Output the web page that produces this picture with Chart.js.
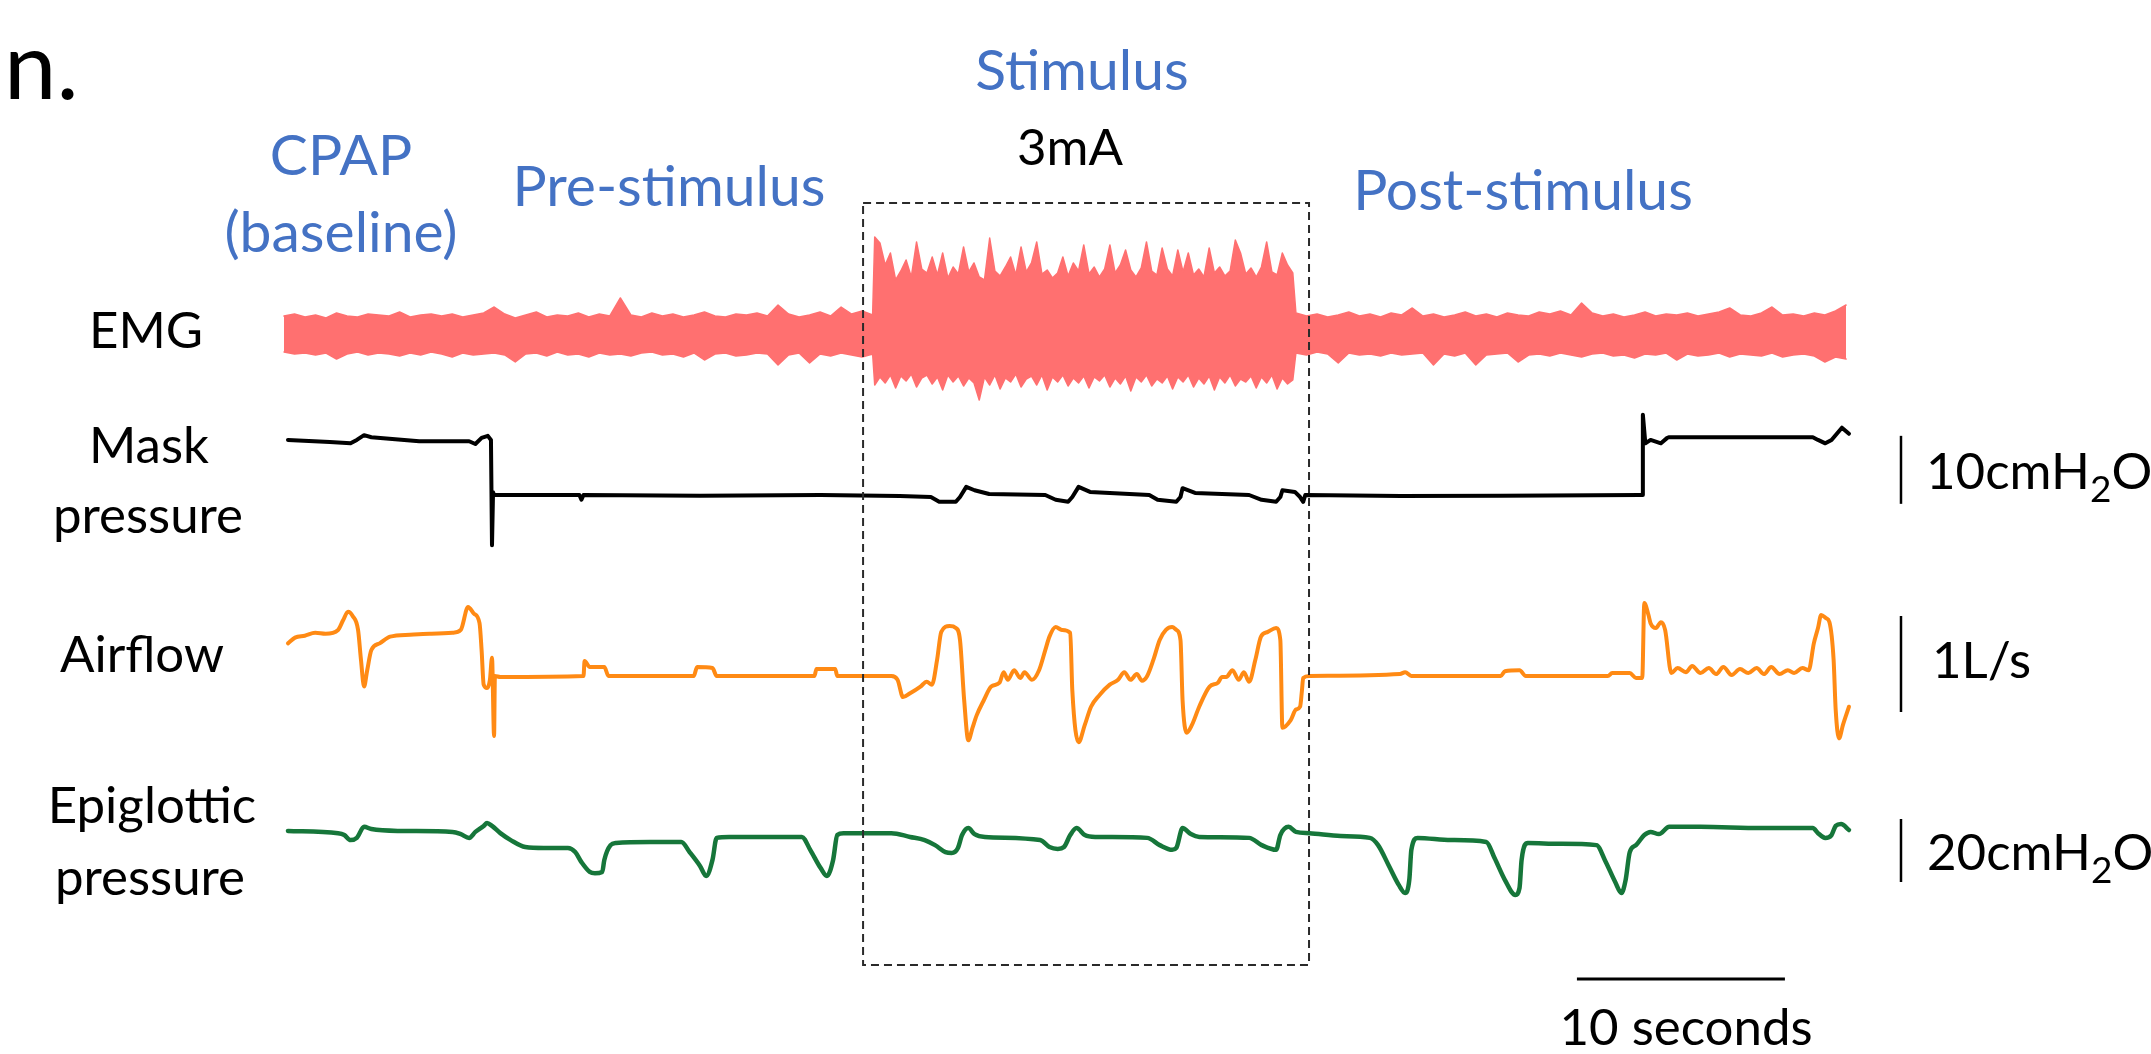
<!DOCTYPE html>
<html><head><meta charset="utf-8">
<script src="https://cdn.jsdelivr.net/npm/chart.js@4.4.1/dist/chart.umd.min.js"></script>
<style>
html,body{margin:0;padding:0;background:#fff;overflow:hidden}
#wrap{position:relative;width:2151px;height:1054px}
#c{position:absolute;left:0;top:0}
#txt{position:absolute;left:0;top:0;pointer-events:none}
#txt text{font-family:Lato,"Open Sans",sans-serif}
</style></head><body>
<div id="wrap">
<canvas id="c" width="2151" height="1054"></canvas>
<svg id="txt" width="2151" height="1054" xmlns="http://www.w3.org/2000/svg">
  <text x="4" y="99" font-size="94" fill="#000">n.</text>
  <g fill="#4472C4" font-size="57" text-anchor="middle">
    <text x="341" y="175">CPAP</text>
    <text x="341" y="252">(baseline)</text>
    <text x="669" y="206">Pre-stimulus</text>
    <text x="1082" y="90">Stimulus</text>
    <text x="1523" y="210">Post-stimulus</text>
  </g>
  <g fill="#000" font-size="51" text-anchor="middle">
    <text x="1070" y="165">3mA</text>
    <text x="146" y="348">EMG</text>
    <text x="149" y="463">Mask</text>
    <text x="148" y="533">pressure</text>
    <text x="142" y="672">Airflow</text>
    <text x="152" y="823">Epiglottic</text>
    <text x="150" y="895">pressure</text>
    <text x="1686" y="1045">10 seconds</text>
  </g>
  <g fill="#000" font-size="51">
    <text x="1926" y="489">10cmH<tspan font-size="37" dy="13">2</tspan><tspan dy="-13">O</tspan></text>
    <text x="1932" y="678">1L/s</text>
    <text x="1927" y="870">20cmH<tspan font-size="37" dy="13">2</tspan><tspan dy="-13">O</tspan></text>
  </g>
</svg>
</div>
<script>
// ---------------- data (time in seconds) ----------------
// EMG envelope (arbitrary units), three segments: pre-stimulus, stimulus (3mA), post-stimulus
const emgPreUpper = [19,21,18,20,17,22,19,18,21,20, 19,23,18,20,21,19,21,18,20,22,
  28,21,17,20,23,18,20,19,22,18, 21,19,37,20,18,22,19,21,18,20,
  23,19,18,21,20,22,19,30,21,18, 20,23,19,28,21,24,20];
const emgPreLower = [-17,-19,-18,-20,-18,-24,-19,-17,-20,-18, -19,-21,-18,-20,-17,-19,-22,-18,-20,-19,
  -18,-20,-27,-19,-18,-21,-17,-20,-19,-22, -18,-20,-19,-21,-18,-17,-20,-19,-22,-18,
  -25,-19,-18,-21,-20,-18,-19,-30,-20,-18, -28,-19,-21,-18,-20,-22,-19];
const emgStimUpper = [98,92,70,82,55,64,75,58,93,66, 62,78,60,82,57,68,61,88,63,72,
  58,55,97,64,59,68,78,60,88,63, 72,93,61,65,57,62,78,59,72,64,
  90,61,68,58,66,90,62,70,85,65, 58,67,93,64,60,87,66,59,85,63,
  82,60,66,58,87,62,68,59,64,95, 82,61,67,58,68,93,63,60,82,70, 62];
const emgStimLower = [-50,-42,-48,-40,-53,-41,-46,-39,-52,-43, -40,-49,-42,-55,-40,-47,-41,-51,-43,-48,
  -65,-42,-50,-40,-54,-43,-47,-39,-52,-44, -41,-50,-40,-55,-42,-47,-40,-51,-43,-48,
  -41,-53,-42,-46,-40,-52,-43,-49,-41,-56, -42,-47,-40,-51,-44,-48,-41,-54,-42,-47,
  -40,-52,-43,-49,-41,-55,-42,-48,-40,-51, -44,-47,-41,-53,-42,-48,-40,-54,-43,-49, -45];
const emgPostUpper = [22,19,21,18,20,23,19,21,18,22, 20,27,19,21,18,20,23,19,21,18,
  22,20,19,23,21,24,20,32,22,19, 21,18,20,23,19,21,20,22,19,21,
  23,27,20,19,22,28,20,21,19,22, 20,24,30];
const emgPostLower = [-18,-20,-17,-19,-28,-18,-20,-19,-21,-18, -20,-19,-18,-30,-19,-21,-18,-30,-20,-19,
  -18,-27,-20,-19,-21,-18,-20,-22,-19,-18, -21,-20,-23,-19,-20,-18,-25,-19,-21,-20,
  -18,-22,-19,-20,-21,-18,-22,-20,-19,-21, -27,-22,-24];
const emgSegments = [[0, 28.3], [28.4, 48.5], [48.65, 75.1]]; // start/end time of each segment

// Mask pressure (cmH2O)
const maskTime = [0.19,2.2,3.2,3.5,3.85,4.2,6.5,8.9,9.2,9.5, 9.8,9.95,10.0,10.05,10.1,10.4,14.2,14.3,14.4,20,
  25.8,29.6,31.1,31.5,32.3,32.5,32.8,33.2,33.9,36.6, 37.1,37.7,37.9,38.2,38.75,41.6,42.0,42.9,43.1,43.2,
  43.8,46.4,47.0,47.7,47.9,48.0,48.6,48.85,49.0,49.1, 53.7,58.5,65.2,65.3,65.33,65.45,65.7,66.2,66.5,66.6,
  70.5,73.5,73.75,74.1,74.4,74.9,75.24];
const maskValue = [8.1,7.8,7.6,8.1,8.8,8.5,7.9,7.9,7.5,8.4, 8.7,8.1,-7.4,0.4,0,0,0,-0.7,0,-0.1,
  0,-0.15,-0.3,-1.0,-1.0,-0.3,1.2,0.7,0.15,0, -0.7,-1.0,-0.3,1.2,0.45,0,-0.7,-1.0,-0.3,1.0,
  0.3,0,-0.7,-1.0,-0.3,0.7,0.45,-0.3,-1.0,0, -0.15,-0.1,0,0,11.8,7.6,8.1,7.6,8.4,8.5,
  8.5,8.5,8.1,7.6,8.1,9.9,9.0];

// Airflow (L/s)
const flowTime = [0.19,0.53,1.0,1.5,2.0,2.6,2.84,3.08,3.3,3.56, 3.7,3.85,4.0,4.2,4.6,5.1,6.06,7.0,8.1,8.5,
  8.85,9.13,9.4,9.5,9.6,9.76,9.9,10.0,10.1,10.14, 10.4,14.4,14.45,14.7,15.4,15.6,19.7,19.86,20.6,20.8,
  25.5,25.6,26.5,26.6,29.2,29.5,29.76,30.1,30.6,30.9, 31.15,31.4,31.6,32.0,32.3,32.5,32.7,32.9,33.1,33.3,
  33.65,34.0,34.4,34.6,34.8,35.1,35.4,35.6,35.96,36.3, 36.6,36.8,37.1,37.4,37.8,37.9,38.2,38.5,38.8,39.2,
  39.7,40.1,40.4,40.7,41.0,41.25,41.5,41.8,42.1,42.4, 42.7,42.9,43.1,43.2,43.4,43.65,44.0,44.5,44.9,45.1,
  45.3,45.6,45.9,46.15,46.4,46.7,46.97,47.3,47.7,47.9, 48.0,48.4,48.65,48.85,48.94,49.0,49.3,53.65,53.9,54.2,
  58.5,58.7,59.4,59.7,63.65,63.85,64.7,65.0,65.3,65.4, 65.6,65.7,65.96,66.2,66.4,66.7,67.0,67.4,67.7,68.1,
  68.5,68.85,69.2,69.6,70.0,70.4,70.8,71.15,71.5,71.9, 72.3,72.6,73.0,73.3,73.55,73.75,73.9,74.15,74.3,74.5,
  74.6,74.76,74.95,75.24];
const flowValue = [0.34,0.40,0.42,0.45,0.44,0.48,0.58,0.67,0.625,0.48, 0.17,-0.11,0.06,0.27,0.34,0.41,0.43,0.44,0.45,0.48,
  0.72,0.65,0.55,0.27,-0.09,-0.125,-0.04,0.19,-0.625,0, -0.01,0,0.156,0.094,0.094,0,0,0.094,0.083,0,
  0,0.073,0.073,0,0,-0.04,-0.22,-0.18,-0.11,-0.06, -0.09,0.17,0.46,0.52,0.5,0.375,-0.25,-0.67,-0.54,-0.41,
  -0.25,-0.11,-0.07,0.04,-0.04,0.06,-0.02,0.04,-0.04,0.06, 0.27,0.41,0.51,0.48,0.45,-0.15,-0.69,-0.51,-0.32,-0.2,
  -0.09,-0.04,0.04,-0.04,0.02,-0.05,0,0.17,0.375,0.48, 0.51,0.48,0.375,-0.25,-0.59,-0.51,-0.32,-0.11,-0.07,-0.01,
  -0.01,0.06,-0.04,0.04,-0.06,0.17,0.41,0.46,0.5,0.375, -0.54,-0.46,-0.35,-0.32,-0.15,-0.02,0,0.02,0.04,0,
  0,0.05,0.06,0,0,0.03,0.03,-0.02,-0.02,0.76, 0.635,0.55,0.5,0.56,0.48,0.03,0.083,0.04,0.104,0.03,
  0.083,0.02,0.094,0.01,0.073,0.03,0.083,0.02,0.094,0.02, 0.06,0.03,0.083,0.06,0.34,0.5,0.635,0.6,0.56,0.17,
  -0.35,-0.65,-0.51,-0.32];

// Epiglottic pressure (cmH2O)
const epiTime = [0.19,2.6,2.9,3.2,3.5,3.85,4.2,5.6,8.1,8.5, 8.9,9.2,9.6,9.76,10.0,10.4,10.9,11.6,12.5,13.65,
  14.0,14.3,14.7,14.95,15.3,15.4,15.7,15.96,17.6,19.1, 19.5,20.0,20.3,20.6,20.8,21.4,24.9,25.3,25.8,26.1,
  26.4,26.6,26.9,29.2,30.1,30.8,31.3,31.8,32.1,32.4, 32.6,32.9,33.2,33.7,36.35,36.8,37.2,37.5,37.8,38.1,
  38.5,39.0,41.5,42.1,42.7,42.9,43.2,43.6,44.0,46.4, 47.0,47.7,47.9,48.3,48.65,49.3,50.8,52.2,52.6,53.1,
  53.6,53.9,54.1,54.2,54.5,56.1,57.8,58.2,58.7,59.2, 59.4,59.5,59.8,61.3,63.1,63.5,64.0,64.3,64.5,64.7,
  65.0,65.4,65.7,66.1,66.6,68.1,71.0,73.5,73.75,74.1, 74.4,74.6,74.86,75.24];
const epiValue = [-0.3,-1.0,-1.6,-3.2,-2.5,1.0,0.3,-0.3,-0.6,-1.3, -2.5,-0.6,1.3,2.2,1.3,-1.0,-3.2,-5.4,-5.7,-5.7,
  -7.0,-10.2,-13.3,-13.7,-13.3,-9.5,-4.8,-4.1,-3.8,-3.8, -7.0,-11.4,-14.6,-9.5,-2.5,-2.2,-2.2,-6.3,-12.1,-14.6,
  -9.5,-1.6,-1.0,-1.0,-2.2,-3.2,-4.8,-7.0,-7.3,-5.7, -1.6,0.6,-1.3,-2.2,-3.2,-5.4,-6.0,-5.4,-1.6,0.6,
  -1.6,-2.2,-2.5,-4.8,-6.3,-5.7,0.6,-1.3,-2.2,-2.5, -4.8,-6.3,-1.6,1.0,-0.6,-1.0,-1.9,-2.5,-4.8,-11.1,
  -17.5,-20.0,-15.9,-6.3,-2.5,-3.2,-3.8,-8.9,-15.9,-20.6, -18.4,-9.5,-4.1,-4.4,-4.8,-9.5,-16.5,-20.0,-15.9,-7.0,
  -4.8,-1.6,-0.6,-1.3,1.0,1.0,0.6,0.6,-1.0,-2.5, -1.6,1.3,1.9,0];

// stimulus window, calibration bars
const stimWindow = [27.84, 49.28];          // s
const timeBar = [62.16, 72.16];             // 10 seconds
const barTime = 77.74;                      // s, where the amplitude bars sit
const maskBar = [-1.3, 8.7];                // 10 cmH2O
const flowBar = [-0.375, 0.625];            // 1 L/s
const epiBar = [-16.5, 3.5];                // 20 cmH2O

// ---------------- build ----------------
function grid(a, b, n) { const out = []; for (let i = 0; i < n; i++) out.push(a + (b - a) * i / (n - 1)); return out; }
const emgUpper = [...emgPreUpper, ...emgStimUpper, ...emgPostUpper];
const emgLower = [...emgPreLower, ...emgStimLower, ...emgPostLower];
const emgTime = [
  ...grid(emgSegments[0][0], emgSegments[0][1], emgPreUpper.length),
  ...grid(emgSegments[1][0], emgSegments[1][1], emgStimUpper.length),
  ...grid(emgSegments[2][0], emgSegments[2][1], emgPostUpper.length)];
const pts = (ts, vs) => ts.map((t, i) => ({x: t, y: vs[i]}));

const W = 2151, H = 1054;
const PX_PER_S = 20.8, X0 = 284;
// band placement: [pixel of zero, pixels per unit]
function axisFor(p0, k) { return {type: 'linear', display: false, min: -(H - p0) / k, max: p0 / k}; }

const EMG_C = '#FF7070', FLOW_C = '#FF8A14', EPI_C = '#16763A';
const line = (data, axis, color, w, extra) => Object.assign({
  data, yAxisID: axis, borderColor: color, backgroundColor: color, borderWidth: w,
  pointRadius: 0, tension: 0, fill: false, borderJoinStyle: 'round', borderCapStyle: 'round'
}, extra || {});
const smooth = {cubicInterpolationMode: 'monotone', tension: 0.4};

const figTop = 203 / H, figBot = 965 / H, barY = 979 / H;
new Chart(document.getElementById('c'), {
  type: 'line',
  data: {
    datasets: [
      line([{x: stimWindow[0], y: figTop}, {x: stimWindow[1], y: figTop}, {x: stimWindow[1], y: figBot},
            {x: stimWindow[0], y: figBot}, {x: stimWindow[0], y: figTop}], 'yFig', '#2a2a2a', 2,
           {borderDash: [8, 5], borderCapStyle: 'butt', borderJoinStyle: 'miter'}),
      line([{x: timeBar[0], y: barY}, {x: timeBar[1], y: barY}], 'yFig', '#000', 3, {borderCapStyle: 'butt'}),
      line([{x: barTime, y: maskBar[0]}, {x: barTime, y: maskBar[1]}], 'yMask', '#000', 2.5, {borderCapStyle: 'butt'}),
      line([{x: barTime, y: flowBar[0]}, {x: barTime, y: flowBar[1]}], 'yFlow', '#000', 2.5, {borderCapStyle: 'butt'}),
      line([{x: barTime, y: epiBar[0]}, {x: barTime, y: epiBar[1]}], 'yEpi', '#000', 2.5, {borderCapStyle: 'butt'}),
      line(pts(maskTime, maskValue), 'yMask', '#000', 4),
      line(pts(flowTime, flowValue), 'yFlow', FLOW_C, 4, smooth),
      line(pts(epiTime, epiValue), 'yEpi', EPI_C, 4.5, smooth),
      line(pts(emgTime, emgUpper), 'yEmg', EMG_C, 1.5, {fill: '+1'}),
      line(pts(emgTime, emgLower), 'yEmg', EMG_C, 1.5)
    ]
  },
  options: {
    responsive: false, animation: false, events: [],
    layout: {padding: 0},
    plugins: {legend: {display: false}, tooltip: {enabled: false}, title: {display: false}},
    scales: {
      x: {type: 'linear', display: false, min: -X0 / PX_PER_S, max: (W - X0) / PX_PER_S},
      yEmg: axisFor(335, 1),
      yMask: axisFor(495, 6.8),
      yFlow: axisFor(676, 96),
      yEpi: axisFor(830, 3.15),
      yFig: {type: 'linear', display: false, min: 0, max: 1, reverse: true}
    }
  }
});
</script>
</body></html>
